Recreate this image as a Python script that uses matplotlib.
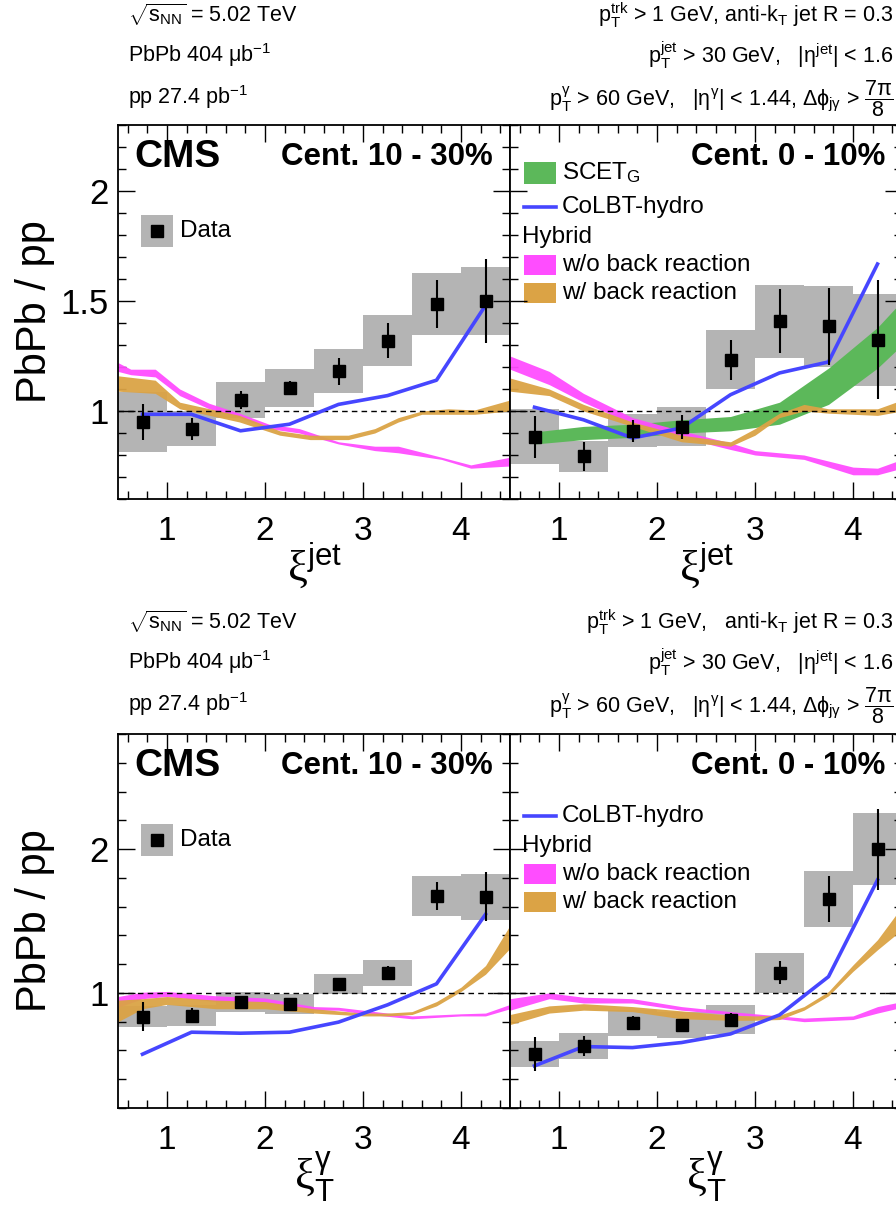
import numpy as np
import matplotlib
matplotlib.use('Agg')
from matplotlib import pyplot as plt
from matplotlib.patches import Rectangle
from matplotlib.lines import Line2D
from matplotlib.ticker import MultipleLocator, FormatStrFormatter

plt.rcParams['font.family'] = ['Liberation Sans', 'DejaVu Sans']
plt.rcParams['mathtext.fontset'] = 'custom'
plt.rcParams['mathtext.rm'] = 'Liberation Sans'
plt.rcParams['mathtext.it'] = 'Liberation Sans:italic'
plt.rcParams['mathtext.bf'] = 'Liberation Sans:bold'

# bin centres (bins of width 0.5 from 0.5 to 4.5)
xi = [0.75, 1.25, 1.75, 2.25, 2.75, 3.25, 3.75, 4.25]

# ---- xi^jet, cent 10-30%
jet1030_y = [0.95, 0.92, 1.05, 1.105, 1.18, 1.32, 1.485, 1.50]
jet1030_stat = [0.08, 0.05, 0.04, 0.03, 0.06, 0.08, 0.11, 0.19]
jet1030_sys = [0.135, 0.08, 0.08, 0.085, 0.10, 0.115, 0.14, 0.155]
jet1030_colbt = [0.985, 0.985, 0.91, 0.94, 1.03, 1.07, 1.14, 1.48]
jet1030_wo_x = [0.5, 0.63, 0.88, 1.13, 1.43, 1.74, 2.04, 2.35, 2.75, 3.12, 3.36, 3.8, 4.1, 4.5]
jet1030_wo_lo = [1.18, 1.165, 1.155, 1.07, 1.01, 0.97, 0.92, 0.90, 0.85, 0.82, 0.81, 0.78, 0.74, 0.75]
jet1030_wo_hi = [1.22, 1.19, 1.19, 1.10, 1.035, 0.99, 0.94, 0.92, 0.86, 0.84, 0.84, 0.79, 0.755, 0.79]
jet1030_w_x = [0.5, 0.88, 1.13, 1.74, 2.15, 2.46, 2.85, 3.12, 3.36, 3.6, 3.87, 4.14, 4.5]
jet1030_w_lo = [1.09, 1.08, 1.01, 0.95, 0.89, 0.87, 0.87, 0.90, 0.95, 0.985, 0.985, 0.985, 1.0]
jet1030_w_hi = [1.16, 1.14, 1.04, 0.98, 0.91, 0.89, 0.89, 0.92, 0.97, 1.0, 1.01, 1.005, 1.05]

# ---- xi^jet, cent 0-10%
jet010_y = [0.882, 0.794, 0.91, 0.929, 1.233, 1.408, 1.385, 1.324]
jet010_stat = [0.095, 0.065, 0.05, 0.055, 0.09, 0.145, 0.175, 0.27]
jet010_sys = [0.125, 0.07, 0.075, 0.09, 0.135, 0.165, 0.185, 0.21]
jet010_colbt = [1.017, 0.96, 0.877, 0.923, 1.074, 1.173, 1.223, 1.668]
jet010_scet_x = [0.75, 1.25, 1.75, 2.25, 2.75, 3.25, 3.75, 4.25, 4.5]
jet010_scet_lo = [0.85, 0.87, 0.88, 0.90, 0.91, 0.94, 1.03, 1.195, 1.30]
jet010_scet_hi = [0.905, 0.93, 0.94, 0.96, 0.975, 1.04, 1.195, 1.38, 1.50]
jet010_wo_x = [0.5, 0.9, 1.25, 1.75, 2.25, 2.75, 3.0, 3.5, 4.0, 4.25, 4.5]
jet010_wo_lo = [1.19, 1.12, 1.04, 0.94, 0.88, 0.825, 0.80, 0.78, 0.71, 0.71, 0.74]
jet010_wo_hi = [1.25, 1.18, 1.08, 0.97, 0.91, 0.855, 0.82, 0.80, 0.745, 0.74, 0.78]
jet010_w_x = [0.5, 0.9, 1.25, 1.75, 2.25, 2.75, 3.0, 3.25, 3.5, 3.75, 4.25, 4.5]
jet010_w_lo = [1.09, 1.07, 1.0, 0.93, 0.86, 0.84, 0.89, 0.97, 1.0, 0.99, 0.98, 1.0]
jet010_w_hi = [1.15, 1.10, 1.03, 0.95, 0.89, 0.86, 0.92, 0.99, 1.03, 1.01, 1.01, 1.05]

# ---- xi_T^gamma, cent 10-30%
gam1030_y = [0.836, 0.843, 0.935, 0.921, 1.06, 1.137, 1.674, 1.669]
gam1030_stat = [0.10, 0.05, 0.04, 0.03, 0.04, 0.05, 0.10, 0.17]
gam1030_sys = [0.07, 0.07, 0.07, 0.07, 0.07, 0.09, 0.14, 0.16]
gam1030_colbt = [0.574, 0.727, 0.72, 0.727, 0.797, 0.917, 1.063, 1.546]
gam1030_wo_x = [0.5, 0.75, 1.0, 1.5, 2.0, 2.5, 2.75, 3.0, 3.5, 4.0, 4.25, 4.5]
gam1030_wo_lo = [0.90, 0.96, 0.975, 0.94, 0.93, 0.88, 0.88, 0.855, 0.82, 0.84, 0.84, 0.89]
gam1030_wo_hi = [0.975, 1.005, 1.01, 0.98, 0.965, 0.905, 0.90, 0.88, 0.84, 0.855, 0.86, 0.92]
gam1030_w_x = [0.5, 0.75, 1.0, 1.5, 2.0, 2.5, 3.0, 3.25, 3.5, 3.75, 4.0, 4.25, 4.5]
gam1030_w_lo = [0.80, 0.89, 0.92, 0.89, 0.89, 0.86, 0.84, 0.84, 0.85, 0.91, 1.01, 1.13, 1.31]
gam1030_w_hi = [0.95, 0.96, 0.975, 0.95, 0.94, 0.89, 0.86, 0.86, 0.87, 0.94, 1.04, 1.19, 1.47]

# ---- xi_T^gamma, cent 0-10%
gam010_y = [0.576, 0.632, 0.79, 0.778, 0.813, 1.141, 1.653, 1.998]
gam010_stat = [0.12, 0.07, 0.05, 0.04, 0.05, 0.08, 0.16, 0.28]
gam010_sys = [0.09, 0.09, 0.09, 0.09, 0.10, 0.14, 0.195, 0.25]
gam010_colbt = [0.493, 0.627, 0.62, 0.655, 0.715, 0.847, 1.113, 1.785]
gam010_wo_x = [0.5, 0.9, 1.25, 1.75, 2.25, 2.75, 3.25, 3.5, 4.0, 4.25, 4.5]
gam010_wo_lo = [0.88, 0.96, 0.93, 0.93, 0.88, 0.85, 0.82, 0.80, 0.815, 0.86, 0.90]
gam010_wo_hi = [0.96, 1.0, 0.97, 0.96, 0.905, 0.87, 0.84, 0.825, 0.84, 0.905, 0.94]
gam010_w_x = [0.5, 0.9, 1.25, 1.75, 2.25, 2.75, 3.0, 3.25, 3.5, 3.75, 4.0, 4.25, 4.5]
gam010_w_lo = [0.78, 0.86, 0.88, 0.87, 0.82, 0.81, 0.81, 0.815, 0.88, 0.98, 1.15, 1.30, 1.44]
gam010_w_hi = [0.85, 0.91, 0.925, 0.905, 0.875, 0.845, 0.84, 0.845, 0.905, 1.01, 1.195, 1.37, 1.60]

c_gray = '#b4b4b4'
c_mag = '#ff4dff'
c_org = '#dba345'
c_grn = '#5cb85a'
c_blue = '#4646ff'

W, H = 896, 1213
fig = plt.figure(figsize=(W / 100, H / 100), dpi=100)


def px_axes(x0, y0, x1, y1):
    return fig.add_axes([x0 / W, 1 - y1 / H, (x1 - x0) / W, (y1 - y0) / H])


def style(ax, ylim, ymaj, ymin, ylabels):
    ax.set_xlim(0.5, 4.5)
    ax.set_ylim(*ylim)
    ax.xaxis.set_major_locator(MultipleLocator(1))
    ax.xaxis.set_minor_locator(MultipleLocator(0.2))
    ax.yaxis.set_major_locator(MultipleLocator(ymaj))
    ax.yaxis.set_minor_locator(MultipleLocator(ymin))
    ax.yaxis.set_major_formatter(FormatStrFormatter('%g'))
    ax.tick_params(which='both', direction='in', top=True, right=True, width=1)
    ax.tick_params(which='major', length=12)
    ax.tick_params(which='minor', length=6)
    ax.tick_params(axis='x', labelsize=24, pad=12)
    ax.tick_params(axis='y', labelsize=25, pad=7, labelleft=ylabels)
    for s in ax.spines.values():
        s.set_linewidth(1.3)
    ax.axhline(1, color='black', lw=1, ls=(0, (4, 3)), zorder=3)


def draw(ax, y, stat, sys, colbt, wo, w, scet=None):
    ax.bar(xi, 2 * np.array(sys), bottom=np.array(y) - np.array(sys), width=0.5,
           color=c_gray, lw=0, zorder=1)
    if scet is not None:
        ax.fill_between(scet[0], scet[1], scet[2], color=c_grn, lw=0, zorder=2)
    ax.fill_between(wo[0], wo[1], wo[2], color=c_mag, lw=0, alpha=0.95, zorder=2)
    ax.fill_between(w[0], w[1], w[2], color=c_org, lw=0, alpha=0.95, zorder=2)
    ax.plot(xi, colbt, color=c_blue, lw=2.6, zorder=4)
    ax.errorbar(xi, y, yerr=stat, fmt='s', color='black', ms=9, elinewidth=1.5,
                capsize=0, zorder=5)


def data_legend(ax):
    ax.add_patch(Rectangle((0.059, 0.675), 0.081, 0.085, transform=ax.transAxes,
                           color=c_gray, lw=0, zorder=6))
    ax.plot([0.099], [0.717], 's', color='black', ms=9, transform=ax.transAxes, zorder=7)
    ax.text(0.158, 0.717, 'Data', fontsize=17.5, va='center', transform=ax.transAxes)


def model_legend(ax, scet):
    t = ax.transAxes
    if scet:
        ax.add_patch(Rectangle((0.036, 0.842), 0.081, 0.059, transform=t, color=c_grn, lw=0))
        ax.text(0.133, 0.872, r'SCET$_\mathrm{G}$', fontsize=17.5, va='center', transform=t)
    ax.add_artist(Line2D([0.036, 0.117], [0.781, 0.781], color=c_blue, lw=2.6, transform=t))
    ax.text(0.133, 0.781, 'CoLBT-hydro', fontsize=17.5, va='center', transform=t)
    ax.text(0.031, 0.70, 'Hybrid', fontsize=17.5, va='center', transform=t)
    ax.add_patch(Rectangle((0.036, 0.599), 0.081, 0.053, transform=t, color=c_mag, lw=0))
    ax.text(0.133, 0.627, 'w/o back reaction', fontsize=17.5, va='center', transform=t)
    ax.add_patch(Rectangle((0.036, 0.524), 0.081, 0.054, transform=t, color=c_org, lw=0))
    ax.text(0.133, 0.551, 'w/ back reaction', fontsize=17.5, va='center', transform=t)


def header(y0, spaced):
    fs = 15.5
    fig.text(128 / W, 1 - (y0) / H, r'$\sqrt{\mathregular{s_{NN}}}$ = 5.02 TeV', fontsize=fs, va='center')
    fig.text(128 / W, 1 - (y0 + 40) / H, r'PbPb 404 μb$^\mathregular{-1}$', fontsize=fs, va='center')
    fig.text(128 / W, 1 - (y0 + 82) / H, r'pp 27.4 pb$^\mathregular{-1}$', fontsize=fs, va='center')
    sep = ',   ' if spaced else ', '
    fig.text(893 / W, 1 - (y0) / H,
             r'$\mathregular{p_T^{trk}}$ > 1 GeV' + sep + r'anti-k$_\mathregular{T}$ jet R = 0.3',
             fontsize=fs, va='center', ha='right')
    fig.text(893 / W, 1 - (y0 + 40) / H,
             r'$\mathregular{p_T^{jet}}$ > 30 GeV,   |$\mathregular{\eta^{jet}}$| < 1.6',
             fontsize=fs, va='center', ha='right')
    fig.text(893 / W, 1 - (y0 + 84) / H,
             r'$\mathregular{p_T^{\gamma}}$ > 60 GeV,   |$\mathregular{\eta^{\gamma}}$| < 1.44, '
             r'$\mathregular{\Delta\phi_{j\gamma}}$ > $\mathregular{\dfrac{7\pi}{8}}$',
             fontsize=fs, va='center', ha='right')


# top row: xi^jet
ax1 = px_axes(118, 125, 510, 499)
ax2 = px_axes(510, 125, 902, 499)
# bottom row: xi_T^gamma
ax3 = px_axes(118, 734, 510, 1108)
ax4 = px_axes(510, 734, 902, 1108)

for ax, lab in [(ax1, True), (ax2, False)]:
    style(ax, (0.6, 2.3), 0.5, 0.1, lab)
for ax, lab in [(ax3, True), (ax4, False)]:
    style(ax, (0.2, 2.8), 1, 0.2, lab)

draw(ax1, jet1030_y, jet1030_stat, jet1030_sys, jet1030_colbt,
     (jet1030_wo_x, jet1030_wo_lo, jet1030_wo_hi), (jet1030_w_x, jet1030_w_lo, jet1030_w_hi))
draw(ax2, jet010_y, jet010_stat, jet010_sys, jet010_colbt,
     (jet010_wo_x, jet010_wo_lo, jet010_wo_hi), (jet010_w_x, jet010_w_lo, jet010_w_hi),
     scet=(jet010_scet_x, jet010_scet_lo, jet010_scet_hi))
draw(ax3, gam1030_y, gam1030_stat, gam1030_sys, gam1030_colbt,
     (gam1030_wo_x, gam1030_wo_lo, gam1030_wo_hi), (gam1030_w_x, gam1030_w_lo, gam1030_w_hi))
draw(ax4, gam010_y, gam010_stat, gam010_sys, gam010_colbt,
     (gam010_wo_x, gam010_wo_lo, gam010_wo_hi), (gam010_w_x, gam010_w_lo, gam010_w_hi))

for ax in (ax1, ax3):
    ax.text(0.043, 0.914, 'CMS', fontsize=28, fontweight='bold', va='center', transform=ax.transAxes)
    ax.text(0.957, 0.914, 'Cent. 10 - 30%', fontsize=22.5, fontweight='bold', va='center', ha='right',
            transform=ax.transAxes)
    ax.set_ylabel('PbPb / pp', fontsize=30)
    ax.yaxis.set_label_coords(-0.16, 0.5)
    data_legend(ax)
for ax in (ax2, ax4):
    ax.text(0.957, 0.914, 'Cent. 0 - 10%', fontsize=22.5, fontweight='bold', va='center', ha='right',
            transform=ax.transAxes)
model_legend(ax2, True)
model_legend(ax4, False)

for ax in (ax1, ax2):
    ax.text(0.5, -0.11, r'ξ$^\mathrm{jet}$', fontsize=32, family='Liberation Serif',
            ha='center', va='top', transform=ax.transAxes)
for ax in (ax3, ax4):
    ax.text(0.5, -0.11, r'ξ$_\mathrm{T}^\mathrm{\gamma}$', fontsize=32, family='Liberation Serif',
            ha='center', va='top', transform=ax.transAxes)

header(15, False)
header(622, True)

fig.savefig('out.png', dpi=100)
